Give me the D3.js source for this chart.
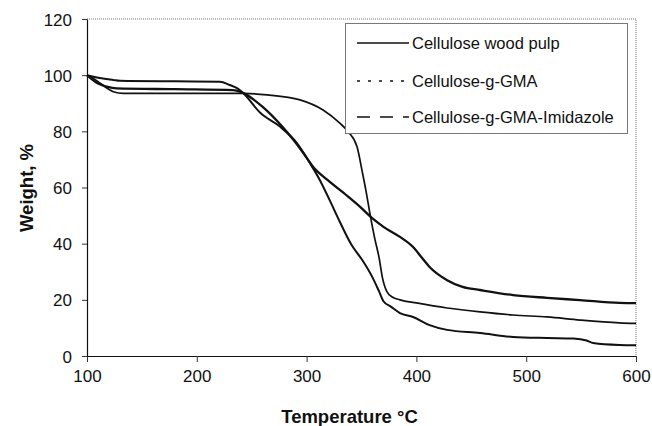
<!DOCTYPE html>
<html>
<head>
<meta charset="utf-8">
<script src="https://cdn.jsdelivr.net/npm/d3@7"></script>
<style>
  html, body { margin: 0; padding: 0; background: #fff; }
  svg { display: block; }
  text { font-family: "Liberation Sans", Arial, Helvetica, sans-serif; fill: #111; }
</style>
</head>
<body>
<svg id="chart" width="652" height="426"></svg>
<script>
// Thermogravimetric curves: weight (%) versus temperature (°C)
const seriesNames = ["Cellulose wood pulp", "Cellulose-g-GMA", "Cellulose-g-GMA-Imidazole"];

const pulpT = [100, 105, 112, 124, 133, 160, 200, 242, 264, 294, 315, 330, 338, 346, 351, 354, 358, 362, 366, 369, 373, 378, 385, 400, 428, 458, 488, 519, 549, 585, 600];
const pulpW = [99.7, 99.0, 97.1, 94.1, 93.5, 93.5, 93.5, 93.5, 93.0, 91.2, 87.6, 83.0, 79.8, 74.4, 65.0, 59.0, 50.0, 42.0, 35.0, 28.0, 23.0, 21.0, 20.0, 18.9, 17.1, 15.7, 14.6, 13.9, 12.8, 11.8, 11.6];

const gmaT = [100, 105, 124, 130, 180, 221, 230, 237, 242, 258, 276, 291, 303, 312, 321, 330, 341, 351, 360, 366, 370, 377, 385, 397, 412, 428, 458, 488, 519, 543, 555, 561, 585, 600];
const gmaW = [100, 99.5, 98.3, 98.0, 97.8, 97.7, 96.5, 95.3, 93.7, 86.5, 81.6, 75.9, 68.7, 62.7, 55.5, 48.0, 39.5, 34.0, 28.0, 23.0, 19.5, 17.5, 15.3, 13.9, 11.0, 9.3, 8.2, 6.8, 6.4, 6.2, 5.5, 4.6, 3.9, 3.8];

const imidT = [100, 110, 118, 127, 180, 233, 242, 260, 278, 297, 306, 319, 337, 349, 360, 370, 385, 397, 405, 412, 428, 442, 458, 488, 519, 549, 585, 600];
const imidW = [100, 97.0, 95.9, 95.3, 95.0, 94.7, 93.7, 88.7, 81.6, 72.3, 67.3, 62.7, 57.0, 53.0, 49.0, 46.0, 42.4, 38.8, 35.0, 31.7, 27.0, 24.6, 23.5, 21.7, 20.7, 19.9, 18.9, 18.8];

const xTicks = [100, 200, 300, 400, 500, 600];
const yTicks = [0, 20, 40, 60, 80, 100, 120];

const svg = d3.select("#chart");
const m = { left: 87, top: 19, right: 16, bottom: 70 };
const W = 652 - m.left - m.right;   // 549
const H = 426 - m.top - m.bottom;   // 337

const x = d3.scaleLinear().domain([100, 600]).range([m.left, m.left + W]);
const y = d3.scaleLinear().domain([0, 120]).range([m.top + H, m.top]);

// light dotted frame on top and right
svg.append("path")
  .attr("d", `M${x(100)},${y(120)}H${x(600)}V${y(0)}`)
  .attr("fill", "none").attr("stroke", "#777").attr("stroke-width", 1)
  .attr("stroke-dasharray", "1,1");

// axes
const xAxis = svg.append("g")
  .attr("transform", `translate(0,${y(0)})`)
  .call(d3.axisBottom(x).tickValues(xTicks).tickSize(6).tickSizeOuter(0).tickPadding(5));
const yAxis = svg.append("g")
  .attr("transform", `translate(${x(100)},0)`)
  .call(d3.axisLeft(y).tickValues(yTicks).tickSize(5).tickSizeOuter(0).tickPadding(10));

[xAxis, yAxis].forEach(g => {
  g.select(".domain").attr("stroke", "#111").attr("stroke-width", 1.2);
  g.selectAll(".tick line").attr("stroke", "#333");
  g.selectAll(".tick text")
    .attr("font-family", '"Liberation Sans", Arial, sans-serif')
    .attr("font-size", 17).attr("fill", "#111");
});
yAxis.selectAll(".tick text").attr("dy", "0.36em");
xAxis.selectAll(".tick text").attr("dy", "0.9em");

// axis titles
svg.append("text")
  .attr("x", x(100) + W / 2 - 12).attr("y", 423)
  .attr("text-anchor", "middle").attr("font-weight", "bold").attr("font-size", 18.5)
  .text("Temperature °C");
svg.append("text")
  .attr("transform", `translate(33,${188}) rotate(-90)`)
  .attr("text-anchor", "middle").attr("font-weight", "bold").attr("font-size", 18.5)
  .text("Weight, %");

// curves
const line = d3.line().x(d => x(d[0])).y(d => y(d[1])).curve(d3.curveMonotoneX);
const curves = [
  { T: pulpT, Wt: pulpW, w: 1.7 },
  { T: gmaT, Wt: gmaW, w: 2.0 },
  { T: imidT, Wt: imidW, w: 2.3 }
];
curves.forEach(c => {
  svg.append("path")
    .datum(c.T.map((t, i) => [t, c.Wt[i]]))
    .attr("fill", "none").attr("stroke", "#111")
    .attr("stroke-width", c.w).attr("stroke-linejoin", "round")
    .attr("d", line);
});

// legend
const lg = svg.append("g");
lg.append("rect")
  .attr("x", 345.5).attr("y", 23.5).attr("width", 282).attr("height", 110)
  .attr("fill", "#fff").attr("stroke", "#777").attr("stroke-width", 1);
const dashes = [null, "3,8", "13,10"];
const rowY = [43, 81, 117];
seriesNames.forEach((name, i) => {
  lg.append("line")
    .attr("x1", 357).attr("x2", 409).attr("y1", rowY[i]).attr("y2", rowY[i])
    .attr("stroke", "#111").attr("stroke-width", 1.6)
    .attr("stroke-dasharray", dashes[i]);
  lg.append("text")
    .attr("x", 412).attr("y", rowY[i]).attr("dy", "0.36em")
    .attr("font-size", 16.5)
    .text(name);
});
</script>
</body>
</html>
